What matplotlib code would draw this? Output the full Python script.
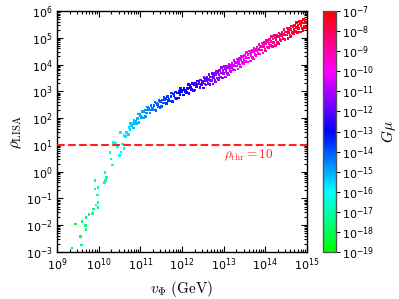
import numpy as np
import matplotlib
matplotlib.use("Agg")
import matplotlib.pyplot as plt
from matplotlib.colors import LinearSegmentedColormap, LogNorm

# log10 of v_Phi [GeV], rho_LISA and G mu
# low-v tail (green / cyan points)
tail_logv = [9.36, 9.44, 9.59, 9.56, 9.60, 9.68, 9.70, 9.70, 9.77, 9.85, 9.87, 9.94,
             9.98, 9.98, 9.97, 9.91, 9.98, 9.91, 10.14, 10.16, 10.19, 10.15, 10.33, 10.30,
             10.27, 10.50, 10.54, 10.35, 10.41, 10.45, 10.61, 10.57, 10.53, 10.61, 10.65, 10.67]
tail_logrho = [-2.85, -1.95, -2.74, -2.41, -1.87, -2.02, -2.17, -1.72, -1.59, -1.56, -1.39, -1.25,
               -1.33, -1.14, -0.87, -0.65, -0.60, -0.34, -0.40, -0.34, -0.21, -0.04, 0.25, 0.47,
               0.71, 0.60, 0.73, 1.08, 1.06, 0.93, 0.87, 1.03, 1.46, 1.36, 1.32, 1.46]
tail_loggmu = [-18.3, -18.1, -17.8, -17.9, -17.8, -17.6, -17.6, -17.6, -17.5, -17.3, -17.3, -17.1,
               -17.0, -17.0, -17.1, -17.2, -17.0, -17.2, -16.7, -16.7, -16.6, -16.7, -16.3, -16.4,
               -16.5, -16.0, -15.9, -16.3, -16.2, -16.1, -15.8, -15.9, -15.9, -15.8, -15.7, -15.7]

# main band
band_logv = [
    10.71, 10.73, 10.75, 10.77, 10.79, 10.81, 10.83, 10.85, 10.87, 10.89,
    10.91, 10.93, 10.95, 10.97, 10.99, 11.01, 11.03, 11.05, 11.07, 11.09,
    11.12, 11.13, 11.15, 11.17, 11.19, 11.21, 11.23, 11.26, 11.27, 11.29,
    11.31, 11.33, 11.35, 11.38, 11.39, 11.41, 11.42, 11.45, 11.47, 11.49,
    11.51, 11.53, 11.55, 11.57, 11.59, 11.61, 11.63, 11.65, 11.67, 11.69,
    11.71, 11.74, 11.75, 11.77, 11.79, 11.81, 11.83, 11.85, 11.87, 11.89,
    11.91, 11.93, 11.95, 11.97, 11.99, 12.01, 12.03, 12.05, 12.07, 12.09,
    12.11, 12.13, 12.15, 12.17, 12.19, 12.21, 12.23, 12.25, 12.27, 12.29,
    12.31, 12.33, 12.35, 12.37, 12.39, 12.41, 12.43, 12.45, 12.47, 12.49,
    12.51, 12.52, 12.53, 12.55, 12.56, 12.58, 12.59,
    12.60, 12.62, 12.64, 12.65, 12.67, 12.68, 12.69,
    12.71, 12.72, 12.74, 12.75, 12.76, 12.78, 12.79,
    12.81, 12.82, 12.83, 12.85, 12.86, 12.88, 12.89,
    12.90, 12.92, 12.94, 12.95, 12.97, 12.98, 12.99,
    13.01, 13.02, 13.04, 13.05, 13.06, 13.08, 13.09,
    13.11, 13.12, 13.13, 13.15, 13.16, 13.18, 13.19,
    13.20, 13.22, 13.24, 13.25, 13.27, 13.28, 13.29,
    13.31, 13.32, 13.34, 13.35, 13.36, 13.38, 13.39,
    13.41, 13.42, 13.43, 13.45, 13.46, 13.48, 13.49,
    13.50, 13.52, 13.54, 13.55, 13.57, 13.58, 13.59,
    13.61, 13.62, 13.64, 13.65, 13.66, 13.68, 13.69,
    13.71, 13.72, 13.73, 13.75, 13.76, 13.78, 13.79,
    13.80, 13.82, 13.84, 13.85, 13.87, 13.88, 13.89,
    13.91, 13.92, 13.94, 13.95, 13.96, 13.98, 13.99,
    14.01, 14.02, 14.03, 14.05, 14.06, 14.08, 14.09,
    14.10, 14.12, 14.14, 14.15, 14.17, 14.18, 14.19,
    14.21, 14.22, 14.24, 14.25, 14.26, 14.28, 14.29,
    14.31, 14.32, 14.33, 14.35, 14.36, 14.38, 14.39,
    14.40, 14.42, 14.44, 14.45, 14.47, 14.48, 14.49,
    14.51, 14.52, 14.54, 14.55, 14.56, 14.58, 14.59,
    14.61, 14.62, 14.63, 14.65, 14.66, 14.68, 14.69,
    14.70, 14.72, 14.74, 14.75, 14.77, 14.78, 14.79,
    14.81, 14.82, 14.84, 14.85, 14.86, 14.88, 14.89,
    14.90, 14.91, 14.92, 14.94, 14.95, 14.97, 14.99,
]
band_logrho = [
    1.38, 1.66, 1.57, 1.80, 1.72, 1.80, 1.63, 1.92, 1.78, 1.87,
    1.81, 1.98, 2.15, 1.83, 2.14, 2.08, 2.02, 2.25, 2.00, 2.23,
    2.05, 2.30, 2.19, 2.41, 2.31, 2.37, 2.19, 2.47, 2.30, 2.38,
    2.30, 2.46, 2.60, 2.28, 2.57, 2.50, 2.42, 2.65, 2.40, 2.62,
    2.43, 2.68, 2.57, 2.78, 2.67, 2.73, 2.54, 2.81, 2.65, 2.72,
    2.64, 2.80, 2.94, 2.61, 2.90, 2.83, 2.75, 2.98, 2.73, 2.94,
    2.75, 3.00, 2.89, 3.10, 2.99, 3.05, 2.86, 3.13, 2.97, 3.04,
    2.96, 3.11, 3.26, 2.92, 3.21, 3.14, 3.06, 3.29, 3.03, 3.24,
    3.05, 3.30, 3.19, 3.39, 3.28, 3.34, 3.15, 3.42, 3.25, 3.32,
    3.13, 3.39, 3.52, 3.28, 3.48, 3.23, 3.39,
    3.54, 3.29, 3.45, 3.64, 3.26, 3.54, 3.41,
    3.41, 3.67, 3.28, 3.60, 3.50, 3.66, 3.40,
    3.35, 3.62, 3.74, 3.50, 3.71, 3.45, 3.62,
    3.77, 3.53, 3.69, 3.88, 3.50, 3.78, 3.66,
    3.66, 3.92, 3.54, 3.86, 3.75, 3.92, 3.66,
    3.61, 3.88, 4.01, 3.77, 3.98, 3.73, 3.90,
    4.05, 3.81, 3.97, 4.16, 3.79, 4.07, 3.95,
    3.95, 4.21, 3.83, 4.15, 4.05, 4.22, 3.96,
    3.91, 4.18, 4.31, 4.07, 4.28, 4.03, 4.20,
    4.35, 4.11, 4.27, 4.46, 4.09, 4.37, 4.25,
    4.25, 4.51, 4.13, 4.45, 4.35, 4.52, 4.26,
    4.21, 4.48, 4.61, 4.37, 4.58, 4.33, 4.50,
    4.65, 4.41, 4.57, 4.76, 4.39, 4.67, 4.55,
    4.55, 4.81, 4.43, 4.75, 4.65, 4.82, 4.56,
    4.51, 4.78, 4.91, 4.66, 4.87, 4.62, 4.79,
    4.94, 4.70, 4.86, 5.04, 4.67, 4.95, 4.83,
    4.83, 5.09, 4.71, 5.02, 4.92, 5.09, 4.83,
    4.78, 5.05, 5.18, 4.93, 5.14, 4.89, 5.06,
    5.21, 4.97, 5.13, 5.31, 4.94, 5.22, 5.10,
    5.10, 5.36, 4.98, 5.29, 5.19, 5.36, 5.10,
    5.05, 5.32, 5.44, 5.20, 5.41, 5.15, 5.32,
    5.47, 5.23, 5.38, 5.57, 5.20, 5.47, 5.35,
    5.35, 5.61, 5.22, 5.54, 5.44, 5.60, 5.34,
    5.28, 5.55, 5.68, 5.43, 5.64, 5.39, 5.56,
]
band_loggmu = [
    -15.6, -15.5, -15.5, -15.5, -15.4, -15.4, -15.3, -15.3, -15.3, -15.2,
    -15.2, -15.1, -15.1, -15.1, -15.0, -15.0, -14.9, -14.9, -14.9, -14.8,
    -14.8, -14.7, -14.7, -14.7, -14.6, -14.6, -14.5, -14.5, -14.5, -14.4,
    -14.4, -14.3, -14.3, -14.2, -14.2, -14.2, -14.2, -14.1, -14.1, -14.0,
    -14.0, -13.9, -13.9, -13.9, -13.8, -13.8, -13.7, -13.7, -13.7, -13.6,
    -13.6, -13.5, -13.5, -13.5, -13.4, -13.4, -13.3, -13.3, -13.3, -13.2,
    -13.2, -13.1, -13.1, -13.1, -13.0, -13.0, -12.9, -12.9, -12.9, -12.8,
    -12.8, -12.7, -12.7, -12.7, -12.6, -12.6, -12.5, -12.5, -12.5, -12.4,
    -12.4, -12.3, -12.3, -12.3, -12.2, -12.2, -12.1, -12.1, -12.1, -12.0,
    -12.0, -12.0, -11.9, -11.9, -11.9, -11.8, -11.8,
    -11.8, -11.8, -11.7, -11.7, -11.7, -11.6, -11.6,
    -11.6, -11.6, -11.5, -11.5, -11.5, -11.4, -11.4,
    -11.4, -11.4, -11.3, -11.3, -11.3, -11.2, -11.2,
    -11.2, -11.2, -11.1, -11.1, -11.1, -11.0, -11.0,
    -11.0, -11.0, -10.9, -10.9, -10.9, -10.8, -10.8,
    -10.8, -10.8, -10.7, -10.7, -10.7, -10.6, -10.6,
    -10.6, -10.6, -10.5, -10.5, -10.5, -10.4, -10.4,
    -10.4, -10.4, -10.3, -10.3, -10.3, -10.2, -10.2,
    -10.2, -10.2, -10.1, -10.1, -10.1, -10.0, -10.0,
    -10.0, -10.0, -9.9, -9.9, -9.9, -9.8, -9.8,
    -9.8, -9.8, -9.7, -9.7, -9.7, -9.6, -9.6,
    -9.6, -9.6, -9.5, -9.5, -9.5, -9.4, -9.4,
    -9.4, -9.4, -9.3, -9.3, -9.3, -9.2, -9.2,
    -9.2, -9.2, -9.1, -9.1, -9.1, -9.0, -9.0,
    -9.0, -9.0, -8.9, -8.9, -8.9, -8.8, -8.8,
    -8.8, -8.8, -8.7, -8.7, -8.7, -8.6, -8.6,
    -8.6, -8.6, -8.5, -8.5, -8.5, -8.4, -8.4,
    -8.4, -8.4, -8.3, -8.3, -8.3, -8.2, -8.2,
    -8.2, -8.2, -8.1, -8.1, -8.1, -8.0, -8.0,
    -8.0, -8.0, -7.9, -7.9, -7.9, -7.8, -7.8,
    -7.8, -7.8, -7.7, -7.7, -7.7, -7.6, -7.6,
    -7.6, -7.6, -7.5, -7.5, -7.5, -7.4, -7.4,
    -7.4, -7.4, -7.3, -7.3, -7.3, -7.2, -7.2,
    -7.2, -7.2, -7.2, -7.1, -7.1, -7.1, -7.0,
]

rho_thr = 10
x_decades = list(range(9, 16))
y_decades = list(range(-3, 7))
gmu_decades = list(range(-19, -6))

logv = np.array(tail_logv + band_logv)
logrho = np.array(tail_logrho + band_logrho)
loggmu = np.array(tail_loggmu + band_loggmu)

cmap = LinearSegmentedColormap.from_list(
    "gcbmr", ["#00ff00", "#00ffff", "#0000ff", "#ff00ff", "#ff0000"])
norm = LogNorm(vmin=1e-19, vmax=1e-7)

fig = plt.figure(figsize=(3.99, 2.99), dpi=100)
ax = fig.add_axes([57 / 399, 47 / 299, 250 / 399, 241 / 299])
cax = fig.add_axes([323 / 399, 47 / 299, 12.5 / 399, 241 / 299])

sc = ax.scatter(10 ** logv, 10 ** logrho, c=10 ** loggmu, cmap=cmap, norm=norm,
                marker="s", s=3.6, linewidths=0, zorder=2)
ax.axhline(rho_thr, color="#ff2020", ls="--", lw=1.5, zorder=3)
ax.text(1e13, 10 ** 0.5, r"$\rho_{\rm thr} = 10$", color="#ff2020", fontsize=9.5,
        math_fontfamily="cm", ha="left", va="baseline")

ax.set_xscale("log")
ax.set_yscale("log")
ax.set_xlim(1e9, 1e15)
ax.set_ylim(1e-3, 1e6)
ax.set_xticks([10.0 ** k for k in x_decades])
ax.set_yticks([10.0 ** k for k in y_decades])
ax.set_xticks([m * 10.0 ** k for k in x_decades[:-1] for m in range(2, 10)], minor=True)
ax.set_yticks([m * 10.0 ** k for k in y_decades[:-1] for m in range(2, 10)], minor=True)
ax.xaxis.set_minor_formatter(matplotlib.ticker.NullFormatter())
ax.yaxis.set_minor_formatter(matplotlib.ticker.NullFormatter())
ax.tick_params(which="both", direction="in", top=True, right=True, labelsize=8, width=0.8)
ax.tick_params(which="major", length=4)
ax.tick_params(which="minor", length=2.2)
ax.tick_params(axis="y", pad=3)
for sp in ax.spines.values():
    sp.set_linewidth(1.0)

ax.set_xlabel(r"$v_\Phi\ (\mathrm{GeV})$", fontsize=11, math_fontfamily="cm", labelpad=4)
ax.set_ylabel(r"$\rho_{\rm LISA}$", fontsize=11, math_fontfamily="cm", labelpad=1)

cb = fig.colorbar(sc, cax=cax)
cb.set_ticks([10.0 ** k for k in gmu_decades])
cb.ax.minorticks_off()
cb.ax.tick_params(labelsize=8, length=3, width=0.8, pad=2)
cb.outline.set_edgecolor("#555555")
cb.outline.set_linewidth(1.0)
cb.set_label(r"$G\mu$", fontsize=11, math_fontfamily="cm", labelpad=3)

fig.savefig("out.png", dpi=100)
